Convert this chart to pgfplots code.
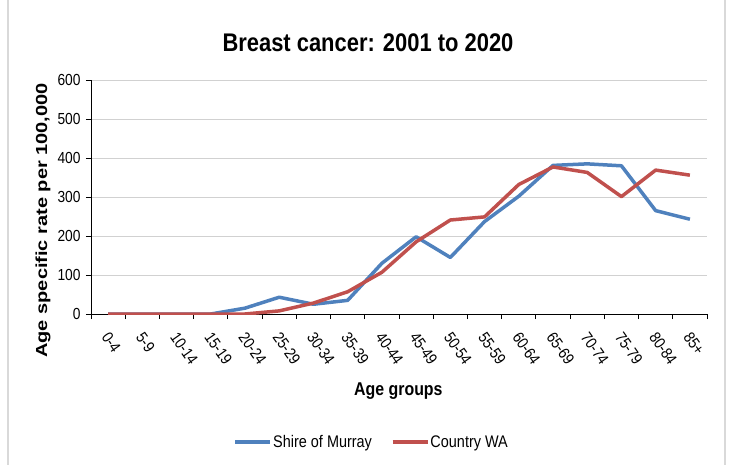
\documentclass[border=0pt]{standalone}
\usepackage{fontspec}
\setmainfont{Liberation Sans}[FakeStretch=0.86]
\newfontfamily\tallfont{Liberation Sans}[FakeStretch=1.25]
\usepackage{pgfplots}
\pgfplotsset{compat=1.18}
\definecolor{murray}{RGB}{79,129,189}
\definecolor{country}{RGB}{192,80,77}

\begin{document}
\begin{tikzpicture}[x=1pt,y=1pt]
\useasboundingbox (0,0) rectangle (731,464);
\draw[black!15, line width=1.2pt] (8,-5) -- (8,470);
\draw[black!15, line width=1.2pt] (725,-5) -- (725,470);
\node[font=\bfseries\fontsize{25.5}{28}\selectfont] at (368,421) {Breast cancer: 2001 to 2020};
\begin{axis}[
  at={(91pt,150pt)}, anchor=south west,
  scale only axis,
  width=616pt, height=234pt,
  xmin=0, xmax=18, ymin=0, ymax=600,
  axis x line*=bottom, axis y line*=left,
  axis line style={black, line width=1pt},
  xtick={0,...,18}, xticklabels={},
  extra x ticks={0.5,1.5,...,17.5},
  extra x tick labels={0-4,5-9,10-14,15-19,20-24,25-29,30-34,35-39,40-44,45-49,50-54,55-59,60-64,65-69,70-74,75-79,80-84,85+},
  extra x tick style={major tick length=0pt, grid=none,
    xticklabel style={xshift=3pt, yshift=-12pt, rotate=-55, anchor=north west}},
  ytick={0,100,...,600},
  tick style={black, line width=0.8pt},
  major tick length=5pt,
  tick align=outside,
  ymajorgrids, grid style={black!18, line width=1pt},
  ticklabel style={font=\fontsize{16}{18}\selectfont},
  yticklabel style={xshift=-2pt},
  /pgf/number format/assume math mode=true,
  xlabel={\bfseries Age groups},
  xlabel style={font=\fontsize{18.5}{20}\selectfont,
    at={(axis description cs:0.499,-0.329)}, anchor=center},
  ylabel={\tallfont\bfseries Age specific rate per 100,000},
  ylabel style={font=\fontsize{16}{18}\selectfont,
    at={(axis description cs:-0.078,0.4)}, anchor=center},
  legend style={at={(axis description cs:0.455,-0.547)}, anchor=center,
    draw=none, legend columns=2, fill=none,
    font=\fontsize{16.8}{18}\selectfont,
    nodes={inner sep=1pt},
    /tikz/every even column/.append style={column sep=18pt}},
  legend image code/.code={\draw[#1, line width=3.5pt] (0,0) -- (35pt,0);},
]
\addplot[murray, line width=3.5pt, line join=round] coordinates {
  (0.5,0)(1.5,0)(2.5,0)(3.5,0)(4.5,15)(5.5,43)(6.5,25)(7.5,35)(8.5,130)
  (9.5,198)(10.5,145)(11.5,237)(12.5,302)(13.5,381)(14.5,385)(15.5,380)
  (16.5,265)(17.5,243)
};
\addlegendentry{Shire of Murray}
\addplot[country, line width=3.5pt, line join=round] coordinates {
  (0.5,0)(1.5,0)(2.5,0)(3.5,0)(4.5,0)(5.5,8)(6.5,28)(7.5,57)(8.5,107)
  (9.5,185)(10.5,241)(11.5,249)(12.5,332)(13.5,377)(14.5,363)(15.5,301)
  (16.5,369)(17.5,356)
};
\addlegendentry{Country WA}
\end{axis}
\end{tikzpicture}
\end{document}
